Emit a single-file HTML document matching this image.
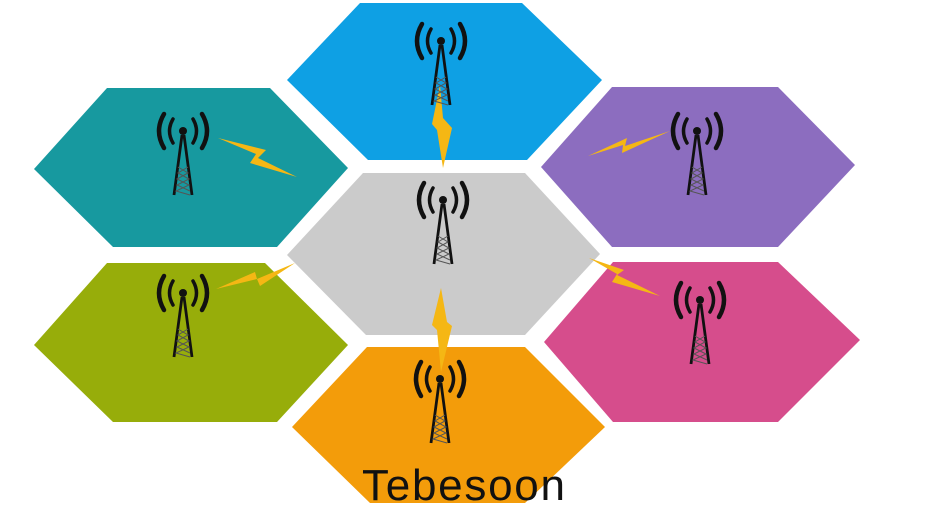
<!DOCTYPE html>
<html><head><meta charset="utf-8"><style>
html,body{margin:0;padding:0;background:#fff;width:925px;height:510px;overflow:hidden}
svg{display:block}
</style></head><body>
<svg width="925" height="510" viewBox="0 0 925 510" xmlns="http://www.w3.org/2000/svg">
<defs>
<g id="t">
<circle cx="0" cy="0" r="4" fill="#111"/>
<path d="M-10,-12 Q-17,0 -10,12 M10,-12 Q17,0 10,12" stroke="#111" stroke-width="3.5" fill="none" stroke-linecap="round"/>
<path d="M-19,-17 Q-29,0 -19,17 M19,-17 Q29,0 19,17" stroke="#111" stroke-width="4.5" fill="none" stroke-linecap="round"/>
<path d="M-1,4 L-9,64 M1,4 L9,64" stroke="#111" stroke-width="2.8" fill="none"/>
<path d="M-5,36 L5,42 L-6,48 L6,54 L-7,60 L7,64 M5,36 L-5,42 L6,48 L-6,54 L7,60" stroke="#555" stroke-width="1" fill="none"/>
</g>
</defs>
<polygon points="360,3 522,3 602,80 527,160 368,160 287,80" fill="#0ea0e4"/>
<polygon points="363,173 525,173 600,254 525,335 366,335 287,255" fill="#cbcbcb"/>
<polygon points="107,88 270,88 348,168 277,247 113,247 34,169" fill="#17999f"/>
<polygon points="107,263 265,263 348,345 277,422 113,422 34,345" fill="#97ad0a"/>
<polygon points="612,87 778,87 855,165 778,247 612,247 541,167" fill="#8c6dbf"/>
<polygon points="613,262 778,262 860,340 778,422 613,422 544,342" fill="#d64d8c"/>
<polygon points="367,347 525,347 605,427 525,503 370,503 292,427" fill="#f39c0a"/>
<g fill="#f5b714">
<polygon points="218,138 266,150 258,158 297,177 250,163 256,154"/>
<polygon points="216,289 255,272 257,279 295,263 260,286 257,279"/>
<polygon points="588,156 627,138 625,146 670,131 622,153 623,145"/>
<polygon points="589,258 624,270 617,275 660,296 612,282 617,274"/>
<polygon points="440,85 443,118 452,128 443,168 437,130 432,124"/>
<polygon points="441,288 447,322 452,326 441,372 437,330 432,325"/>
</g>
<use href="#t" x="441" y="41"/>
<use href="#t" x="183" y="131"/>
<use href="#t" x="443" y="200"/>
<use href="#t" x="697" y="131"/>
<use href="#t" x="183" y="293"/>
<use href="#t" x="700" y="300"/>
<use href="#t" x="440" y="379"/>
<text x="362" y="500" font-family="Liberation Sans, sans-serif" font-size="44" letter-spacing="3" textLength="206" lengthAdjust="spacing" fill="#111">Tebesoon</text>
</svg>
</body></html>
